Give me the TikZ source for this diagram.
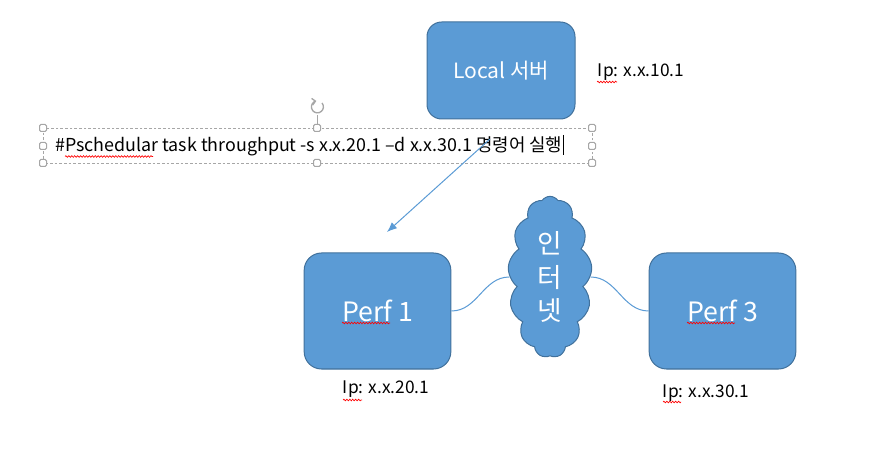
\documentclass[tikz,border=0pt]{standalone}
\usepackage{fontspec}
\setmainfont{Noto Sans CJK KR}
\usetikzlibrary{arrows.meta,positioning,shapes.symbols,decorations.pathmorphing}
\definecolor{boxfill}{HTML}{5B9BD5}
\definecolor{boxline}{HTML}{41719C}
\definecolor{handlec}{HTML}{A6A6A6}

\tikzset{
  hostbox/.style={draw=boxline, fill=boxfill, line width=0.75pt, text=white,
    rounded corners=13pt, minimum width=110pt, minimum height=87pt,
    font=\fontsize{20}{23}\selectfont},
  localbox/.style={hostbox, rounded corners=11pt, minimum width=111pt,
    minimum height=72.75pt, font=\fontsize{15.8}{18}\selectfont},
  netcloud/.style={cloud, cloud puffs=13, cloud puff arc=110, aspect=0.47,
    draw=boxline, fill=boxfill, line width=0.75pt, text=white, align=center,
    inner sep=0pt, minimum width=63pt, minimum height=121pt,
    font=\fontsize{20}{25}\selectfont},
  iplabel/.style={font=\fontsize{13}{15}\selectfont, inner sep=1pt},
  link/.style={draw=boxfill, line width=0.75pt},
  cmdarrow/.style={draw=boxfill, line width=0.75pt, -{Latex[length=7.5pt,width=6pt]}},
  handle/.style={draw=handlec, fill=white, line width=0.75pt, rounded corners=1pt},
  squiggle/.style={draw=red, line width=0.5pt, decorate,
    decoration={snake, amplitude=0.6pt, segment length=2.2pt}}
}

\begin{document}
\begin{tikzpicture}[x=0.75pt, y=-0.75pt]
  \useasboundingbox (0,0) rectangle (874,459);

  % hosts
  \node[localbox] (local) at (501,70.5) {Local 서버};
  \node[hostbox] (p1) at (377.5,311) {Perf 1};
  \node[hostbox] (p3) at (722.5,311) {Perf 3};
  \node[netcloud] (net) at (550,277) {인\\터\\넷};

  % addresses
  \node[iplabel] (ip10) at (641,72) {Ip: x.x.10.1};
  \node[iplabel] (ip20) at (386,389) {Ip: x.x.20.1};
  \node[iplabel] (ip30) at (706,393) {Ip: x.x.30.1};

  % links through the internet
  \draw[link] (p1.east) to[out=0, in=180] (net.west);
  \draw[link] (net.east) to[out=0, in=180] (p3.west);

  % selected text box
  \draw[handlec, line width=0.6pt, dash pattern=on 2pt off 1.5pt] (43,128) rectangle (592,163);
  \draw[handlec, line width=0.75pt] (317,115) -- (317,124.5);
  \draw[handlec, line width=1pt, -{Straight Barb[length=2.5pt]}] (322,103) arc[start angle=-40, end angle=260, radius=6];
  \foreach \hx/\hy in {43/128, 317/128, 592/128, 43/146, 592/146, 43/163, 317/163, 592/163}
    \draw[handle] (\hx-3.5,\hy-3.5) rectangle (\hx+3.5,\hy+3.5);
  \node[font=\fontsize{13.4}{16}\selectfont, anchor=base west, inner sep=0pt] (cmd) at (55,152)
    {\#Pschedular task throughput -s x.x.20.1 –d x.x.30.1 명령어 실행};
  \draw[line width=0.75pt] (563,135) -- (563,155);

  % command sent to perf 1
  \coordinate (arrtail) at (490,139);
  \coordinate (arrhead) at (387,232);
  \draw[cmdarrow] (arrtail) -- (arrhead);

  % spell check marks
  \draw[squiggle] (65,156.5) -- (153,156.5);
  \draw[squiggle] (597,82) -- (617,82);
  \draw[squiggle] (342,323) -- (390,323);
  \draw[squiggle] (687,323) -- (735,323);
  \draw[squiggle] (343,400) -- (362,400);
  \draw[squiggle] (663,402) -- (681,402);
\end{tikzpicture}
\end{document}
